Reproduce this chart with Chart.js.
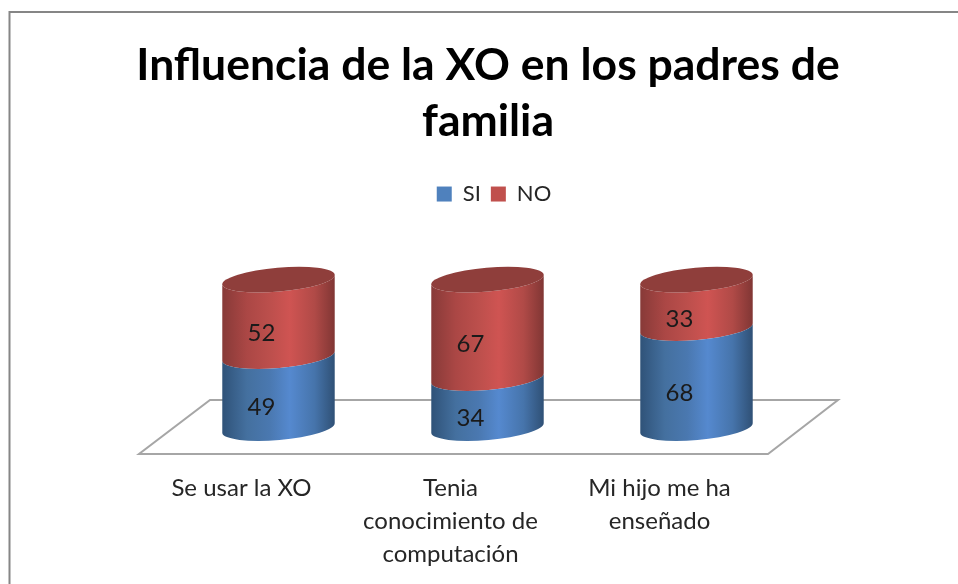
<!DOCTYPE html>
<html>
<head>
<meta charset="utf-8">
<script src="https://cdn.jsdelivr.net/npm/chart.js@4/dist/chart.umd.min.js"></script>
<style>html,body{margin:0;padding:0;background:#fff}canvas{display:block}</style>
</head>
<body>
<canvas id="c" width="958" height="584"></canvas>
<script>
const titleLines = ['Influencia de la XO en los padres de', 'familia'];
const categories = [['Se usar la XO'], ['Tenia', 'conocimiento de', 'computación'], ['Mi hijo me ha', 'enseñado']];
const seriesNames = ['SI', 'NO'];
const siValues = [49, 34, 68];
const noValues = [52, 67, 33];
const legendColors = ['#4f81bd', '#c0504d'];
const sideStops = [
  ['#2f5278', '#44709f', '#4a78b0', '#5589cf', '#4674ab', '#2f5075'],
  ['#873a38', '#ab4745', '#bc4f4c', '#cf5452', '#b04a47', '#803634']
];
const capColor = '#8f3e3b';
const FONT = 'Lato, Carlito, sans-serif';
const TILT = -5 * Math.PI / 180;
const CAP_RY = 12;

function sideGradient(ctx, left, width, stops) {
  const g = ctx.createLinearGradient(left, 0, left + width, 0);
  [0, 0.22, 0.42, 0.6, 0.82, 1].forEach((p, i) => g.addColorStop(p, stops[i]));
  return g;
}

const cylinders = {
  id: 'cylinders',
  afterLayout(chart) {
    chart.legend.left += 6;
    chart.legend.right += 6;
  },
  beforeDraw(chart) {
    const { ctx, width, height } = chart;
    ctx.save();
    ctx.fillStyle = '#fff';
    ctx.fillRect(0, 0, width, height);
    ctx.strokeStyle = '#868686';
    ctx.lineWidth = 2;
    ctx.beginPath();
    ctx.moveTo(9.5, height);
    ctx.lineTo(9.5, 12);
    ctx.lineTo(width, 12);
    ctx.stroke();
    ctx.restore();
  },
  beforeDatasetsDraw(chart) {
    const { ctx, chartArea: a } = chart;
    const y0 = chart.scales.y.getPixelForValue(0);
    ctx.save();
    ctx.strokeStyle = '#a6a6a6';
    ctx.lineWidth = 2;
    ctx.lineJoin = 'miter';
    ctx.beginPath();
    ctx.moveTo(a.left - 35, y0 + 26);
    ctx.lineTo(a.right - 33, y0 + 26);
    ctx.lineTo(a.right + 37, y0 - 28);
    ctx.lineTo(a.left + 36, y0 - 28);
    ctx.closePath();
    ctx.stroke();
    ctx.restore();
  },
  beforeDatasetDraw(chart, args) {
    const { ctx } = chart;
    const meta = chart.getDatasetMeta(args.index);
    meta.data.forEach(bar => {
      const rx = bar.width / 2;
      const left = bar.x - rx;
      ctx.save();
      ctx.beginPath();
      ctx.ellipse(bar.x, bar.base, rx, CAP_RY, TILT, 0, Math.PI);
      ctx.ellipse(bar.x, bar.y, rx, CAP_RY, TILT, Math.PI, 0, true);
      ctx.closePath();
      ctx.fillStyle = sideGradient(ctx, left, bar.width, sideStops[args.index]);
      ctx.fill();
      if (args.index === 1) {
        ctx.beginPath();
        ctx.ellipse(bar.x, bar.y, rx, CAP_RY, TILT, 0, Math.PI * 2);
        ctx.fillStyle = capColor;
        ctx.fill();
      }
      ctx.restore();
    });
    return false;
  },
  afterDatasetsDraw(chart) {
    const { ctx } = chart;
    ctx.save();
    ctx.font = '24px ' + FONT;
    ctx.fillStyle = '#1a1a1a';
    ctx.textAlign = 'center';
    ctx.textBaseline = 'middle';
    chart.data.datasets.forEach((ds, di) => {
      chart.getDatasetMeta(di).data.forEach((bar, i) => {
        ctx.fillText(String(ds.data[i]), bar.x - 17, (bar.y + bar.base) / 2 + 15);
      });
    });
    ctx.restore();
  }
};

new Chart(document.getElementById('c'), {
  type: 'bar',
  data: {
    labels: categories,
    datasets: [
      { label: seriesNames[0], data: siValues, backgroundColor: legendColors[0] },
      { label: seriesNames[1], data: noValues, backgroundColor: legendColors[1] }
    ]
  },
  plugins: [cylinders],
  options: {
    responsive: false,
    animation: false,
    layout: { padding: { left: 18, right: 0, top: 37, bottom: 0 } },
    datasets: { bar: { barPercentage: 0.54, categoryPercentage: 1 } },
    plugins: {
      tooltip: { enabled: false },
      title: {
        display: true,
        text: titleLines,
        color: '#000',
        font: { family: FONT, size: 44.5, weight: 'bold', lineHeight: 1.27 },
        padding: { top: 0, bottom: 23 }
      },
      legend: {
        display: true,
        position: 'top',
        labels: {
          color: '#262626',
          font: { family: FONT, size: 22 },
          boxWidth: 15,
          boxHeight: 15,
          padding: 10
        }
      }
    },
    scales: {
      x: {
        stacked: true,
        grid: { display: false },
        border: { display: false },
        afterFit(s) { s.height = 156; },
        ticks: {
          color: '#262626',
          font: { family: FONT, size: 24, lineHeight: 1.375 },
          padding: 36,
          labelOffset: -37,
          maxRotation: 0,
          minRotation: 0,
          autoSkip: false
        }
      },
      y: {
        stacked: true,
        min: 0,
        max: 145,
        position: 'left',
        grid: { display: false },
        border: { display: false },
        ticks: { display: false },
        afterFit(s) { s.width = 156; }
      },
      yRight: {
        type: 'linear',
        position: 'right',
        grid: { display: false },
        border: { display: false },
        ticks: { display: false },
        afterFit(s) { s.width = 157; }
      }
    }
  }
});
</script>
</body>
</html>
